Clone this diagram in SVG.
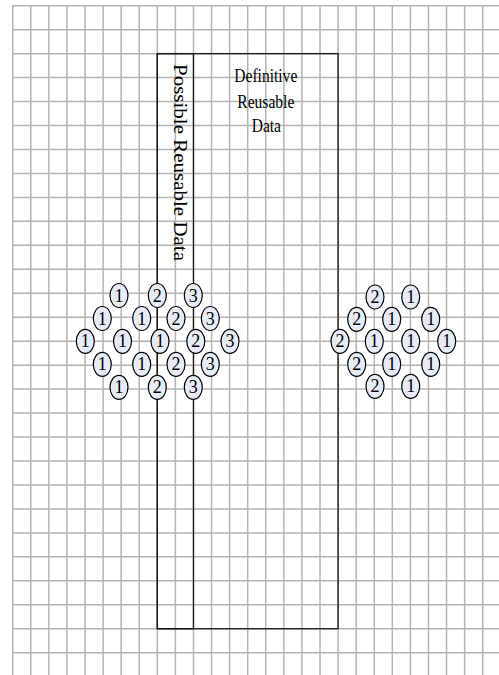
<svg xmlns="http://www.w3.org/2000/svg" width="499" height="675" viewBox="0 0 499 675">
<style>
.grid{stroke:#b4b4b4;stroke-width:1.5;fill:none}
.frame{stroke:#1a1a1a;stroke-width:1.3;fill:none}
.bubble{fill:#e6ecf7;stroke:#000;stroke-width:1.2}
.node text{font-family:"Liberation Serif","Times New Roman",serif;font-size:18px;text-anchor:middle;fill:#000}
.lbl{font-family:"Liberation Serif","Times New Roman",serif;font-size:18.5px;fill:#000}
</style>
<defs>
<ellipse id="c" class="bubble" rx="9" ry="12" fill="#e6ecf7" stroke="#000" stroke-width="1.2"/>
</defs>
<rect width="499" height="675" fill="#fff"/>
<g id="grid" class="grid">
<path d="M12.7 5 V675 M30.78 5 V675 M48.85 5 V675 M66.93 5 V675 M85.01 5 V675 M103.09 5 V675 M121.16 5 V675 M139.24 5 V675 M157.32 5 V675 M175.39 5 V675 M193.47 5 V675 M211.55 5 V675 M229.62 5 V675 M247.7 5 V675 M265.78 5 V675 M283.86 5 V675 M301.93 5 V675 M320.01 5 V675 M338.09 5 V675 M356.16 5 V675 M374.24 5 V675 M392.32 5 V675 M410.39 5 V675 M428.47 5 V675 M446.55 5 V675 M464.63 5 V675 M482.7 5 V675"/>
<path d="M12 5.7 H499 M12 29.66 H499 M12 53.63 H499 M12 77.59 H499 M12 101.55 H499 M12 125.52 H499 M12 149.48 H499 M12 173.44 H499 M12 197.4 H499 M12 221.37 H499 M12 245.33 H499 M12 269.29 H499 M12 293.26 H499 M12 317.22 H499 M12 341.18 H499 M12 365.15 H499 M12 389.11 H499 M12 413.07 H499 M12 437.03 H499 M12 461 H499 M12 484.96 H499 M12 508.92 H499 M12 532.89 H499 M12 556.85 H499 M12 580.81 H499 M12 604.78 H499 M12 628.74 H499 M12 652.7 H499"/>
</g>
<g id="definitive-area">
<rect class="frame" x="157.32" y="53.63" width="180.77" height="575.11"/>
<text class="lbl" x="234.3" y="81.7" textLength="63" lengthAdjust="spacingAndGlyphs">Definitive</text>
<text class="lbl" x="237.3" y="107.7" textLength="57" lengthAdjust="spacingAndGlyphs">Reusable</text>
<text class="lbl" x="251.7" y="132.3" textLength="29.3" lengthAdjust="spacingAndGlyphs">Data</text>
</g>
<g id="possible-area">
<rect class="frame" x="157.32" y="53.63" width="36.15" height="575.11"/>
<text class="lbl" style="font-size:19px" transform="translate(174,64) rotate(90)" textLength="197" lengthAdjust="spacingAndGlyphs">Possible Reusable Data</text>
</g>
<g id="left-cluster">
<g id="l1a" class="node" transform="translate(119,295.5)"><use href="#c"/><text y="6">1</text></g>
<g id="l1b" class="node" transform="translate(157.3,295.5)"><use href="#c"/><text y="6">2</text></g>
<g id="l1c" class="node" transform="translate(193.3,295.5)"><use href="#c"/><text y="6">3</text></g>
<g id="l2a" class="node" transform="translate(102.3,318.5)"><use href="#c"/><text y="6">1</text></g>
<g id="l2b" class="node" transform="translate(141.7,318.5)"><use href="#c"/><text y="6">1</text></g>
<g id="l2c" class="node" transform="translate(176,318.5)"><use href="#c"/><text y="6">2</text></g>
<g id="l2d" class="node" transform="translate(210.3,318.5)"><use href="#c"/><text y="6">3</text></g>
<g id="l3a" class="node" transform="translate(85.3,341.3)"><use href="#c"/><text y="6">1</text></g>
<g id="l3b" class="node" transform="translate(122.5,341.3)"><use href="#c"/><text y="6">1</text></g>
<g id="l3c" class="node" transform="translate(160,341.3)"><use href="#c"/><text y="6">1</text></g>
<g id="l3d" class="node" transform="translate(195.8,341.3)"><use href="#c"/><text y="6">2</text></g>
<g id="l3e" class="node" transform="translate(230,341.3)"><use href="#c"/><text y="6">3</text></g>
<g id="l4a" class="node" transform="translate(102.3,364.3)"><use href="#c"/><text y="6">1</text></g>
<g id="l4b" class="node" transform="translate(141.7,364.3)"><use href="#c"/><text y="6">1</text></g>
<g id="l4c" class="node" transform="translate(176,364.3)"><use href="#c"/><text y="6">2</text></g>
<g id="l4d" class="node" transform="translate(210.3,364.3)"><use href="#c"/><text y="6">3</text></g>
<g id="l5a" class="node" transform="translate(119,387.3)"><use href="#c"/><text y="6">1</text></g>
<g id="l5b" class="node" transform="translate(157.3,387.3)"><use href="#c"/><text y="6">2</text></g>
<g id="l5c" class="node" transform="translate(193.3,387.3)"><use href="#c"/><text y="6">3</text></g>
</g>
<g id="right-cluster">
<g id="r1a" class="node" transform="translate(375,297)"><use href="#c"/><text y="6">2</text></g>
<g id="r1b" class="node" transform="translate(410.7,297)"><use href="#c"/><text y="6">1</text></g>
<g id="r2a" class="node" transform="translate(356.7,319.3)"><use href="#c"/><text y="6">2</text></g>
<g id="r2b" class="node" transform="translate(391.7,319.3)"><use href="#c"/><text y="6">1</text></g>
<g id="r2c" class="node" transform="translate(430.7,319.3)"><use href="#c"/><text y="6">1</text></g>
<g id="r3a" class="node" transform="translate(340,341.3)"><use href="#c"/><text y="6">2</text></g>
<g id="r3b" class="node" transform="translate(374.3,341.3)"><use href="#c"/><text y="6">1</text></g>
<g id="r3c" class="node" transform="translate(410.7,341.3)"><use href="#c"/><text y="6">1</text></g>
<g id="r3d" class="node" transform="translate(446.7,341.3)"><use href="#c"/><text y="6">1</text></g>
<g id="r4a" class="node" transform="translate(356.7,364.3)"><use href="#c"/><text y="6">2</text></g>
<g id="r4b" class="node" transform="translate(391.7,364.3)"><use href="#c"/><text y="6">1</text></g>
<g id="r4c" class="node" transform="translate(430.7,364.3)"><use href="#c"/><text y="6">1</text></g>
<g id="r5a" class="node" transform="translate(375,386.3)"><use href="#c"/><text y="6">2</text></g>
<g id="r5b" class="node" transform="translate(410.7,386.3)"><use href="#c"/><text y="6">1</text></g>
</g>
<g id="connectors"/>
</svg>
